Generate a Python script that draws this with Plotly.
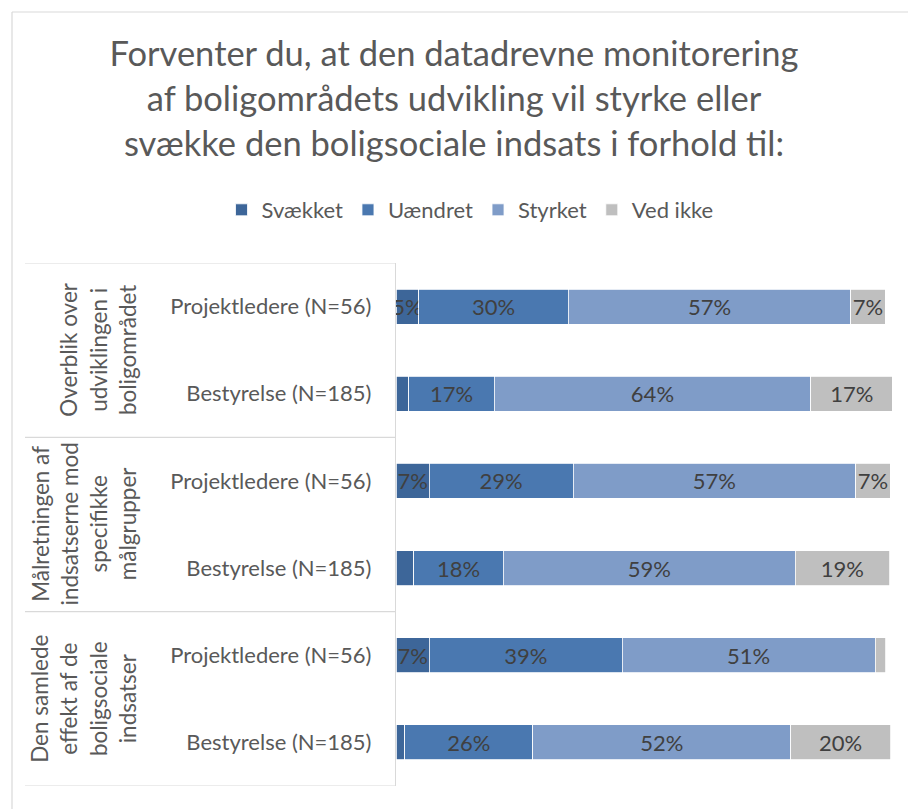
import plotly.graph_objects as go

# ---- data ----
categories = ["Projektledere (N=56)", "Bestyrelse (N=185)",
              "Projektledere (N=56)", "Bestyrelse (N=185)",
              "Projektledere (N=56)", "Bestyrelse (N=185)"]
groups = ["Overblik over<br>udviklingen i<br>boligområdet",
          "Målretningen af<br>indsatserne mod<br>specifikke<br>målgrupper",
          "Den samlede<br>effekt af de<br>boligsociale<br>indsatser"]
svaekket = [4.6, 2.6, 6.7, 3.6, 6.7, 1.8]
uaendret = [30.1, 17.2, 29.0, 18.0, 38.9, 25.8]
styrket = [57.0, 63.8, 57.0, 58.9, 51.0, 52.0]
ved_ikke = [6.9, 16.6, 6.9, 19.0, 2.1, 20.1]
series = [("Svækket", svaekket, "#3D6699"),
          ("Uændret", uaendret, "#4A78B0"),
          ("Styrket", styrket, "#7F9CC8"),
          ("Ved ikke", ved_ikke, "#BFBFBF")]
title = ("Forventer du, at den datadrevne monitorering<br>"
         "af boligområdets udvikling vil styrke eller<br>"
         "svække den boligsociale indsats i forhold til:")

FONT = "Lato"
W, H = 908, 809
L, R, T, B = 396, 16, 263, 23
pw, ph = W - L - R, H - T - B

def px_x(px):
    return (px - L) / pw

def px_y(py):
    return (H - B - py) / ph

ypos = list(range(len(categories)))

fig = go.Figure()
for name, vals, col in series:
    fig.add_trace(go.Bar(
        y=ypos, x=vals, name=name, orientation="h",
        marker=dict(color=col, line=dict(color="white", width=0.8)),
        text=[f"{v:.0f}%" if v >= 4 else "" for v in vals],
        textposition="inside", insidetextanchor="middle", textangle=0,
        constraintext="none",
        textfont=dict(family=FONT, size=22, color="#404040"),
        hoverinfo="skip",
    ))

shapes = []
# chart border (top and left visible)
shapes.append(dict(type="line", xref="paper", yref="paper",
                   x0=px_x(12), x1=px_x(W + 5), y0=px_y(12), y1=px_y(12),
                   line=dict(color="#D9D9D9", width=1.2)))
shapes.append(dict(type="line", xref="paper", yref="paper",
                   x0=px_x(12), x1=px_x(12), y0=px_y(12), y1=px_y(H + 5),
                   line=dict(color="#D9D9D9", width=1.2)))
# group separators
for b in [-0.5, 1.5, 3.5, 5.5]:
    shapes.append(dict(type="line", xref="paper", yref="y",
                       x0=px_x(25), x1=0, y0=b, y1=b,
                       line=dict(color="#D9D9D9", width=1.2)))

annotations = []
for i, g in enumerate(groups):
    annotations.append(dict(
        text=g, xref="paper", yref="y", x=px_x(143.5), y=2 * i + 0.5,
        xanchor="right", yanchor="middle", textangle=-90, showarrow=False,
        font=dict(family=FONT, size=22.5, color="#595959"), align="center"))

fig.update_layout(
    width=W, height=H,
    margin=dict(l=L, r=R, t=T, b=B),
    paper_bgcolor="white", plot_bgcolor="white",
    barmode="stack", bargap=0.6,
    title=dict(text=title, x=0.5, xanchor="center", xref="container",
               y=1 - 66 / H, yanchor="middle", yref="container",
               font=dict(family=FONT, size=34.5, color="#595959")),
    legend=dict(orientation="h", xref="container", yref="container",
                x=470 / W, xanchor="center", y=1 - 210 / H, yanchor="middle",
                font=dict(family=FONT, size=22, color="#595959"),
                traceorder="normal"),
    xaxis=dict(range=[0, 100], visible=False, fixedrange=True),
    yaxis=dict(tickvals=ypos, ticktext=categories, autorange=False,
               range=[5.5, -0.5], showline=True, linecolor="#D9D9D9",
               linewidth=1.2, showgrid=False, zeroline=False, ticks="",
               ticklabelstandoff=19, fixedrange=True,
               tickfont=dict(family=FONT, size=22, color="#595959")),
    shapes=shapes, annotations=annotations,
    showlegend=True,
)
fig.write_html("out.html", config={"displayModeBar": False},
               post_script="document.body.style.margin='0';")
